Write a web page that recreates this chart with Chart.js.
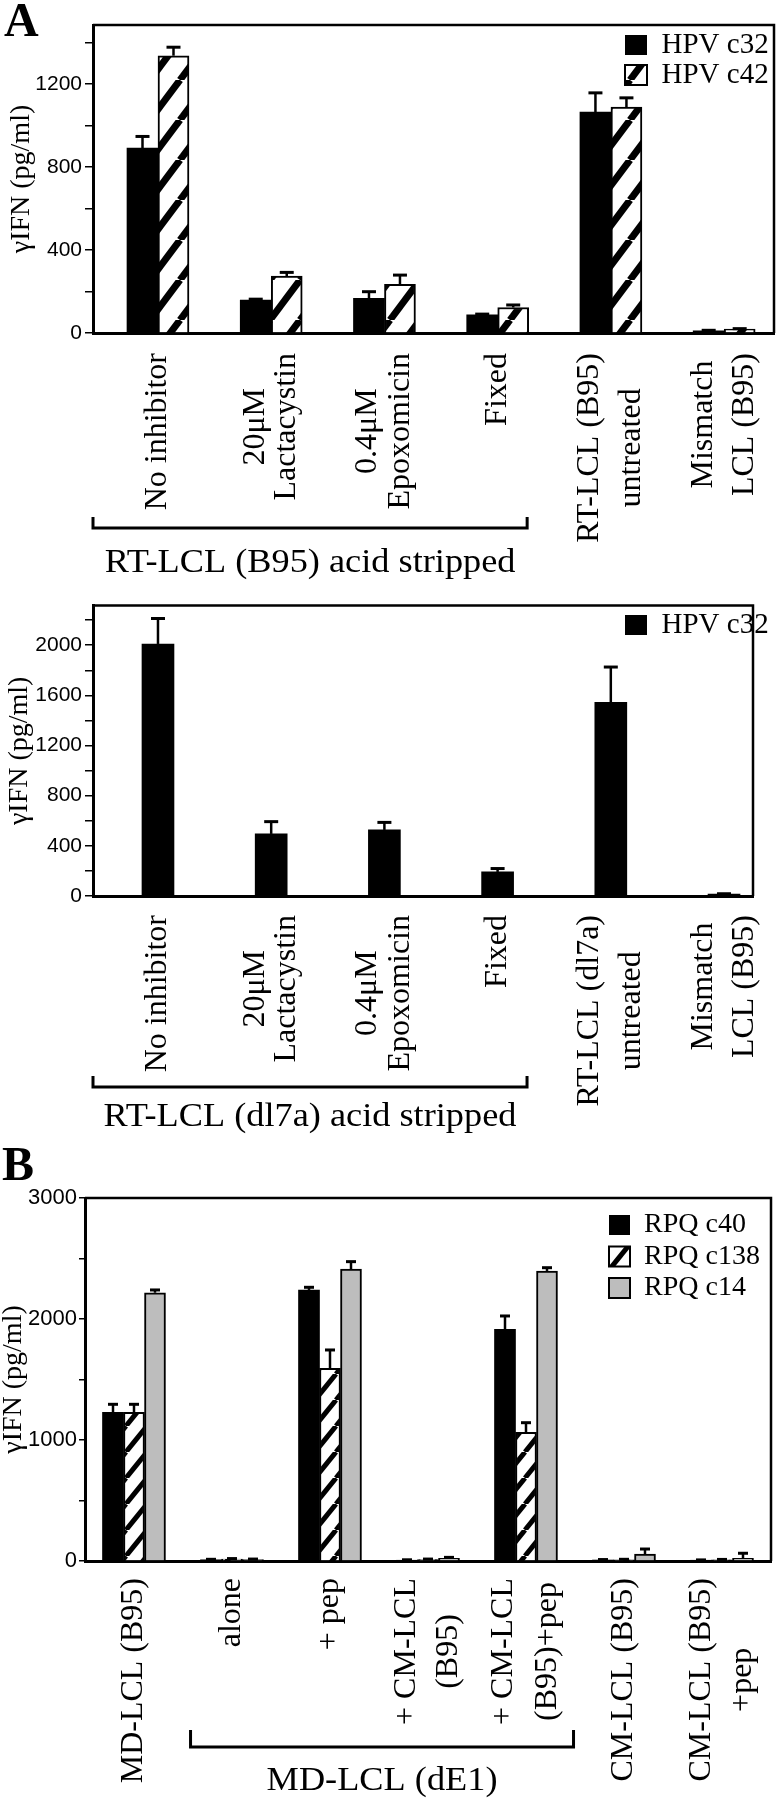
<!DOCTYPE html>
<html>
<head>
<meta charset="utf-8">
<script src="https://cdn.jsdelivr.net/npm/chart.js@4.4.1/dist/chart.umd.min.js"></script>
<style>
  body { margin: 0; background: #fff; }
  #page { position: relative; width: 776px; height: 1800px; }
  .panel { position: absolute; left: 0; }
</style>
</head>
<body>
<div id="page">
  <canvas id="chartA1" class="panel" width="776" height="590" style="top:0px"></canvas>
  <canvas id="chartA2" class="panel" width="776" height="550" style="top:590px"></canvas>
  <canvas id="chartB" class="panel" width="776" height="660" style="top:1140px"></canvas>
</div>
<script>
const SERIF = "'Liberation Serif', 'Times New Roman', serif"
const SANS = "'Liberation Sans', Arial, sans-serif"
const NARROW = "'Liberation Sans Narrow', 'Liberation Sans', Arial, sans-serif"

// Panel A, top: RT-LCL (B95)
const a1Categories = [["No inhibitor"], ["20μM", "Lactacystin"], ["0.4μM", "Epoxomicin"], ["Fixed"], ["RT-LCL (B95)", "untreated"], ["Mismatch", "LCL (B95)"]]
const a1C32 = [891, 159, 167, 88, 1064, 11]
const a1C32Err = [56, 4, 32, 3, 93, 2]
const a1C42 = [1336, 274, 234, 123, 1088, 19]
const a1C42Err = [41, 18, 45, 12, 45, 2]
const a1YTicks = [0, 400, 800, 1200]

// Panel A, bottom: RT-LCL (dl7a)
const a2Categories = [["No inhibitor"], ["20μM", "Lactacystin"], ["0.4μM", "Epoxomicin"], ["Fixed"], ["RT-LCL (dl7a)", "untreated"], ["Mismatch", "LCL (B95)"]]
const a2C32 = [2010, 495, 527, 192, 1544, 16]
const a2C32Err = [203, 98, 60, 27, 282, 2]
const a2YTicks = [0, 400, 800, 1200, 1600, 2000]

// Panel B
const bCategories = [["MD-LCL (B95)"], ["alone"], ["+ pep"], ["+ CM-LCL", "(B95)"], ["+ CM-LCL", "(B95)+pep"], ["CM-LCL (B95)"], ["CM-LCL (B95)", "+pep"]]
const bC40 = [1229, 10, 2240, 6, 1915, 8, 6]
const bC40Err = [66, 4, 22, 4, 110, 4, 3]
const bC138 = [1229, 16, 1592, 12, 1063, 10, 9]
const bC138Err = [66, 4, 152, 4, 80, 4, 4]
const bC14 = [2217, 12, 2413, 22, 2397, 58, 22]
const bC14Err = [23, 4, 61, 8, 27, 41, 42]
const bYTicks = [0, 1000, 2000, 3000]

// diagonal "/" hatch
function makeHatch(ctx, w, h, lw) {
  const c = document.createElement("canvas")
  c.width = w
  c.height = h
  const g = c.getContext("2d")
  g.fillStyle = "#fff"
  g.fillRect(0, 0, w, h)
  g.strokeStyle = "#000"
  g.lineWidth = lw
  ;[-w, 0, w].forEach((dx) => {
    g.beginPath()
    g.moveTo(dx, h)
    g.lineTo(dx + w, 0)
    g.stroke()
  })
  return ctx.createPattern(c, "repeat")
}

function series(label, values, errors, style, thickness) {
  return {
    label,
    data: values.map((v, i) => ({ x: i, y: v })),
    values,
    errors,
    barThickness: thickness,
    borderColor: "#000",
    ...style,
  }
}

const figurePlugin = {
  id: "figure",
  afterLayout(chart, args, opts) {
    const lg = chart.legend
    if (lg && opts.legendAt) {
      const pad = lg.options.labels.padding
      lg.left = opts.legendAt[0] - pad
      lg.top = opts.legendAt[1] - pad
      lg.right = lg.left + lg.width
      lg.bottom = lg.top + lg.height
    }
  },
  afterDatasetsDraw(chart, args, opts) {
    const ctx = chart.ctx
    const yScale = chart.scales.y
    ctx.save()
    ctx.strokeStyle = "#000"
    ctx.lineWidth = 2.5
    chart.data.datasets.forEach((ds, di) => {
      chart.getDatasetMeta(di).data.forEach((bar, i) => {
        const yTop = yScale.getPixelForValue(ds.values[i] + ds.errors[i])
        ctx.beginPath()
        ctx.moveTo(bar.x, bar.y)
        ctx.lineTo(bar.x, yTop)
        ctx.stroke()
        ctx.lineWidth = 3
        ctx.beginPath()
        ctx.moveTo(bar.x - opts.capWidth / 2, yTop)
        ctx.lineTo(bar.x + opts.capWidth / 2, yTop)
        ctx.stroke()
        ctx.lineWidth = 2.5
      })
    })
    ctx.restore()
  },
  afterDraw(chart, args, opts) {
    const ctx = chart.ctx
    const { left, right, top, bottom } = chart.chartArea
    const xScale = chart.scales.x
    ctx.save()
    ctx.strokeStyle = "#000"
    ctx.fillStyle = "#000"

    // top and right side of the frame
    ctx.lineWidth = 2.5
    ctx.beginPath()
    ctx.moveTo(left, top)
    ctx.lineTo(right, top)
    ctx.lineTo(right, bottom)
    ctx.stroke()

    // rotated category labels
    ctx.font = `32px ${SERIF}`
    ctx.textAlign = "center"
    ctx.textBaseline = "middle"
    opts.categories.forEach((lines, i) => {
      const cx = xScale.getPixelForValue(i)
      const maxW = Math.max(...lines.map((l) => ctx.measureText(l).width))
      lines.forEach((line, j) => {
        ctx.save()
        ctx.translate(cx + (j - (lines.length - 1) / 2) * opts.lineGap[i], bottom + opts.labelOffset + maxW / 2)
        ctx.rotate(-Math.PI / 2)
        ctx.fillText(line, 0, 0)
        ctx.restore()
      })
    })

    // bracket under the grouped conditions
    const b = opts.bracket
    const x0 = xScale.getPixelForValue(b.from)
    const x1 = xScale.getPixelForValue(b.to)
    const by = bottom + b.dy
    ctx.lineWidth = 3
    ctx.beginPath()
    ctx.moveTo(x0, by - b.tick)
    ctx.lineTo(x0, by)
    ctx.lineTo(x1, by)
    ctx.lineTo(x1, by - b.tick)
    ctx.stroke()
    ctx.font = `33px ${SERIF}`
    ctx.save()
    ctx.translate((x0 + x1) / 2, bottom + b.textDy)
    ctx.scale(1.1, 1)
    ctx.fillText(b.text, 0, 0)
    ctx.restore()

    // panel letter
    if (opts.letter) {
      ctx.font = `bold 48px ${SERIF}`
      ctx.textAlign = "left"
      ctx.textBaseline = "alphabetic"
      ctx.fillText(opts.letter.text, opts.letter.x, opts.letter.y)
    }
    ctx.restore()
  },
}

function buildChart(id, cfg) {
  const canvas = document.getElementById(id)
  const ctx = canvas.getContext("2d")
  return new Chart(ctx, {
    type: "bar",
    data: { datasets: cfg.datasets(ctx) },
    options: {
      responsive: false,
      animation: false,
      devicePixelRatio: 1,
      layout: { padding: { top: cfg.area.top, right: canvas.width - cfg.area.right, left: 0, bottom: 0 } },
      scales: {
        x: {
          type: "linear",
          min: cfg.xRange[0],
          max: cfg.xRange[1],
          offset: false,
          grid: { display: false },
          ticks: { display: false },
          border: { display: true, color: "#000", width: 3 },
          afterFit: (s) => {
            s.height = canvas.height - cfg.area.bottom
          },
        },
        y: {
          min: 0,
          max: cfg.yMax,
          ticks: {
            stepSize: cfg.yStep,
            autoSkip: false,
            includeBounds: false,
            color: "#000",
            padding: cfg.tickPad,
            font: { family: cfg.tickFont, size: cfg.tickSize },
            callback: (v) => (cfg.yTicks.includes(v) ? String(v) : ""),
          },
          grid: { drawOnChartArea: false, color: "#000", tickColor: "#000", tickLength: cfg.tickLength, lineWidth: 1.5 },
          border: { display: true, color: "#000", width: 3 },
          title: {
            display: true,
            text: "γIFN (pg/ml)",
            color: "#000",
            font: { family: SERIF, size: 28, lineHeight: 1 },
            padding: { top: cfg.titlePad, bottom: 0 },
          },
          afterFit: (s) => {
            s.width = cfg.area.left
          },
        },
      },
      plugins: {
        tooltip: { enabled: false },
        legend: {
          position: "chartArea",
          align: "start",
          labels: {
            color: "#000",
            font: { family: SERIF, size: cfg.legendSize },
            boxWidth: cfg.legendBox[0],
            boxHeight: cfg.legendBox[1],
            padding: cfg.legendPad,
          },
        },
        figure: {
          legendAt: cfg.legendAt,
          capWidth: cfg.capWidth,
          categories: cfg.categories,
          lineGap: cfg.lineGap,
          labelOffset: cfg.labelOffset,
          bracket: cfg.bracket,
          letter: cfg.letter,
        },
      },
    },
    plugins: [figurePlugin],
  })
}

buildChart("chartA1", {
  area: { left: 93, top: 25, right: 774, bottom: 333 },
  xRange: [-0.574, 5.44],
  yMax: 1484,
  yStep: 200,
  yTicks: a1YTicks,
  tickFont: SANS,
  tickSize: 21,
  tickPad: 3,
  tickLength: 8,
  titlePad: 8,
  legendSize: 29,
  legendBox: [22, 20],
  legendPad: 1,
  legendAt: [625, 30.5],
  capWidth: 14,
  categories: a1Categories,
  lineGap: [33, 31, 33, 33, 42, 41],
  labelOffset: 20,
  bracket: { from: -0.574, to: 3.26, dy: 195, tick: 11, textDy: 230, text: "RT-LCL (B95) acid stripped" },
  letter: { text: "A", x: 4, y: 36 },
  datasets: (ctx) => [
    series("HPV c32", a1C32, a1C32Err, { backgroundColor: "#000", borderWidth: 0 }, 31),
    series("HPV c42", a1C42, a1C42Err, { backgroundColor: makeHatch(ctx, 30, 40, 7), borderWidth: 2 }, 31),
  ],
})

buildChart("chartA2", {
  area: { left: 93, top: 13, right: 753, bottom: 306 },
  xRange: [-0.574, 5.256],
  yMax: 2316,
  yStep: 200,
  yTicks: a2YTicks,
  tickFont: SANS,
  tickSize: 21,
  tickPad: 3,
  tickLength: 8,
  titlePad: 6,
  legendSize: 29,
  legendBox: [22, 20],
  legendPad: 1,
  legendAt: [625, 20.5],
  capWidth: 14,
  categories: a2Categories,
  lineGap: [33, 31, 33, 33, 42, 41],
  labelOffset: 19,
  bracket: { from: -0.574, to: 3.26, dy: 191, tick: 11, textDy: 221, text: "RT-LCL (dl7a) acid stripped" },
  letter: null,
  datasets: () => [series("HPV c32", a2C32, a2C32Err, { backgroundColor: "#000", borderWidth: 0 }, 32)],
})

buildChart("chartB", {
  area: { left: 85, top: 58, right: 771, bottom: 421 },
  xRange: [-0.5, 6.5],
  yMax: 3000,
  yStep: 500,
  yTicks: bYTicks,
  tickFont: NARROW,
  tickSize: 22,
  tickPad: 2,
  tickLength: 6,
  titlePad: 0,
  legendSize: 28,
  legendBox: [21, 20],
  legendPad: 3.5,
  legendAt: [609, 71],
  capWidth: 10,
  categories: bCategories,
  lineGap: [42, 42, 42, 42, 44, 42, 41],
  labelOffset: 17,
  bracket: { from: 0.577, to: 4.485, dy: 186, tick: 17, textDy: 220, text: "MD-LCL (dE1)" },
  letter: { text: "B", x: 2, y: 40 },
  datasets: (ctx) => [
    series("RPQ c40", bC40, bC40Err, { backgroundColor: "#000", borderWidth: 0 }, 21),
    series("RPQ c138", bC138, bC138Err, { backgroundColor: makeHatch(ctx, 21, 26, 5), borderWidth: 2 }, 21),
    series("RPQ c14", bC14, bC14Err, { backgroundColor: "#bdbdbd", borderWidth: 2 }, 21),
  ],
})
</script>
</body>
</html>
